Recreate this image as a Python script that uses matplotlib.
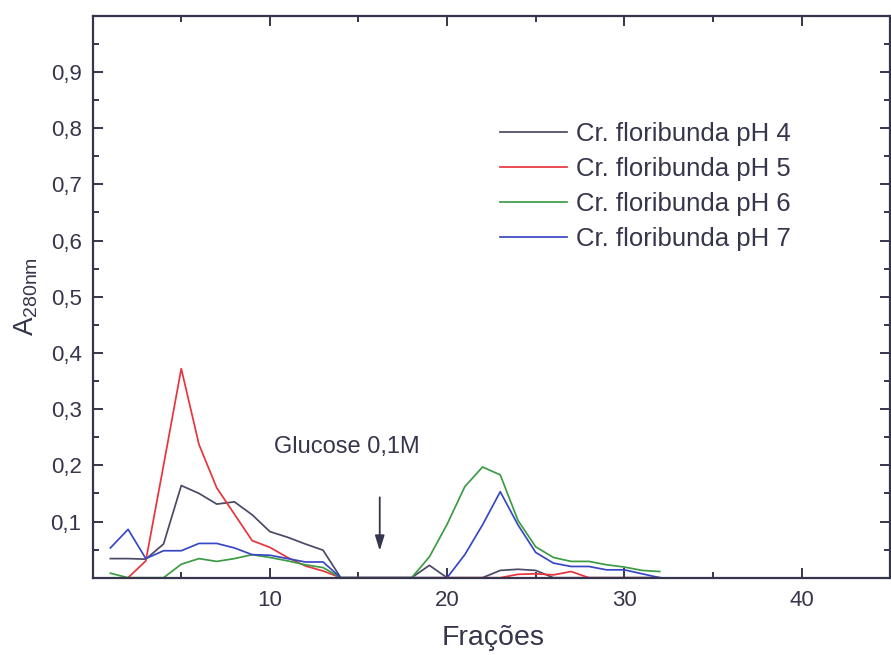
import numpy as np
import matplotlib
matplotlib.use("Agg")
import matplotlib.pyplot as plt
from matplotlib.ticker import MultipleLocator, FuncFormatter

# fractions collected
fracoes = np.arange(1, 33)

# A280nm
ph4 = [0.034, 0.034, 0.033, 0.060, 0.164, 0.150, 0.131, 0.135, 0.112, 0.082,
       0.072, 0.060, 0.049, 0, 0, 0, 0, 0, 0.022, 0,
       0, 0, 0.013, 0.015, 0.013, 0, 0, 0, 0, 0, 0, 0]
ph5 = [np.nan, 0, 0.030, 0.200, 0.372, 0.237, 0.160, 0.113, 0.066, 0.054,
       0.036, 0.021, 0.012, 0, 0, 0, 0, 0, 0, 0,
       0, 0, 0, 0.006, 0.007, 0.005, 0.011, 0, 0, 0, 0, 0]
ph6 = [0.008, 0, 0, 0, 0.024, 0.034, 0.029, 0.034, 0.041, 0.036,
       0.030, 0.023, 0.018, 0, 0, 0, 0, 0, 0.037, 0.095,
       0.162, 0.197, 0.183, 0.102, 0.055, 0.036, 0.029, 0.029, 0.023, 0.019, 0.013, 0.011]
ph7 = [0.053, 0.086, 0.034, 0.048, 0.048, 0.061, 0.061, 0.053, 0.041, 0.040,
       0.034, 0.028, 0.028, 0, 0, 0, 0, 0, 0, 0,
       0.041, 0.094, 0.153, 0.094, 0.045, 0.026, 0.020, 0.020, 0.014, 0.014, 0.007, 0]

labels = ["Cr. floribunda pH 4", "Cr. floribunda pH 5",
          "Cr. floribunda pH 6", "Cr. floribunda pH 7"]
colors = ["#4a4a66", "#e8343c", "#3c9c44", "#3848c4"]
xticks = [10, 20, 30, 40]

ink = "#35354c"
plt.rcParams['font.family'] = ['Liberation Sans', 'DejaVu Sans']
plt.rcParams['mathtext.default'] = 'regular'

fig = plt.figure(figsize=(8.91, 6.55), dpi=100)
ax = fig.add_axes([0.104, 0.118, 0.895, 0.858])

for y, c, lab in zip([ph4, ph5, ph6, ph7], colors, labels):
    ax.plot(fracoes, y, color=c, lw=1.25, label=lab)

ax.set_xlim(0, 45)
ax.set_ylim(0, 1.0)
ax.set_xticks(xticks)
ax.xaxis.set_minor_locator(MultipleLocator(5))
ax.set_yticks(np.arange(0.1, 0.95, 0.1))
ax.yaxis.set_minor_locator(MultipleLocator(0.05))
ax.yaxis.set_major_formatter(FuncFormatter(lambda v, p: f"{v:.1f}".replace(".", ",")))
ax.tick_params(which='both', direction='in', top=True, right=True,
               color=ink, width=1.4, labelsize=16, labelcolor=ink)
ax.tick_params(which='major', length=7.5)
ax.tick_params(which='minor', length=4.5)
ax.tick_params(axis='x', pad=9)
ax.tick_params(axis='y', pad=8)
for s in ax.spines.values():
    s.set_color(ink)
    s.set_linewidth(1.6)

ax.set_xlabel("Frações", fontsize=20.5, color=ink)
ax.xaxis.set_label_coords(0.502, -0.085)
ax.set_ylabel("A$_{280nm}$", fontsize=20, color=ink)
ax.yaxis.set_label_coords(-0.066, 0.5)

# elution marker
ax.annotate("", xy=(16.2, 0.043), xytext=(16.2, 0.148),
            arrowprops=dict(arrowstyle="-|>,head_length=0.9,head_width=0.28",
                            color=ink, lw=1.3))
ax.text(10.25, 0.232, "Glucose 0,1M", fontsize=17, color=ink, va='center', ha='left')

ax.legend(loc='upper left', bbox_to_anchor=(0.561, 0.813), bbox_transform=fig.transFigure,
          frameon=False, fontsize=18.5, handlelength=2.6, handletextpad=0.35,
          labelspacing=0.42, borderpad=0, borderaxespad=0, labelcolor=ink)

fig.savefig("out.png", dpi=100)
